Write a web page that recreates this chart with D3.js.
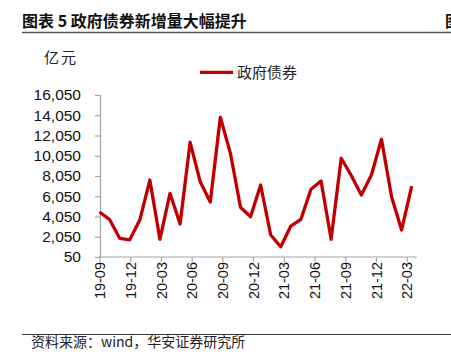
<!DOCTYPE html>
<html><head><meta charset="utf-8">
<script src="https://cdn.jsdelivr.net/npm/d3@7"></script>
<style>
html,body{margin:0;padding:0;background:#fff;}
svg{display:block;}
</style></head>
<body>
<svg id="c" width="451" height="357"></svg>
<script>
// Months of the series (2019-08 .. 2022-03)
const months = ["19-08","19-09","19-10","19-11","19-12","20-01","20-02","20-03","20-04","20-05","20-06","20-07",
  "20-08","20-09","20-10","20-11","20-12","21-01","21-02","21-03","21-04","21-05","21-06","21-07",
  "21-08","21-09","21-10","21-11","21-12","22-01","22-02","22-03"];
// 政府债券 (亿元)
const govBonds = [4500,3750,1900,1750,3700,7650,1800,6340,3310,11380,7490,5480,
  13850,10290,4960,4030,7160,2220,1067,3110,3770,6740,7560,1800,
  9800,8100,6170,8150,11680,6000,2720,7060];
const xTickLabels = ["19-09","19-12","20-03","20-06","20-09","20-12","21-03","21-06","21-09","21-12","22-03"];
const yTicks = [50,2050,4050,6050,8050,10050,12050,14050,16050];
const seriesName = "政府债券";
const titleText = "图表 5 政府债券新增量大幅提升";
const unitText = "亿元";
const sourceText = "资料来源：wind，华安证券研究所";

const svg = d3.select("#c");
const red = "#C00000";
const axisColor = "#A6A6A6";
const numFont = "'Liberation Sans', Arial, sans-serif";
const cjkFont = "'Noto Sans CJK SC', sans-serif";

// Title
svg.append("text").attr("x",22).attr("y",26.5).text(titleText)
  .attr("font-family",cjkFont).attr("font-weight","bold").attr("font-size",16).attr("fill","#111");
svg.append("text").attr("x",445).attr("y",26.5).text("图")
  .attr("font-family",cjkFont).attr("font-weight","bold").attr("font-size",16).attr("fill","#111");
svg.append("line").attr("x1",22).attr("x2",451).attr("y1",32.5).attr("y2",32.5)
  .attr("stroke","#555").attr("stroke-width",1.5);

// Unit
svg.append("text").attr("x",44).attr("y",63).text(unitText)
  .attr("font-family",cjkFont).attr("font-size",15).attr("letter-spacing",2).attr("fill","#222");

// Scales
const y = d3.scaleLinear().domain([50,16050]).range([257,95]);
const x = d3.scalePoint().domain(months).range([99.5,411.7]);
const xAxisScale = d3.scalePoint().domain(xTickLabels).range([99.5,406.7]);

// Y axis
const gy = svg.append("g").attr("transform","translate(100,0)")
  .call(d3.axisLeft(y).tickValues(yTicks).tickSize(5).tickPadding(14).tickFormat(d3.format(",")));
gy.select(".domain").attr("stroke",axisColor).attr("stroke-width",1.2);
gy.selectAll(".tick line").attr("stroke",axisColor).attr("stroke-width",1.2);
gy.selectAll(".tick text").attr("font-family",numFont).attr("font-size",15.5).attr("fill","#111");

// X axis
const gx = svg.append("g").attr("transform","translate(0,257)")
  .call(d3.axisBottom(xAxisScale).tickSize(5).tickSizeOuter(0));
gx.select(".domain").attr("d","M99.5,0H417").attr("stroke",axisColor).attr("stroke-width",1.2);
gx.selectAll(".tick line").attr("stroke",axisColor).attr("stroke-width",1.2);
gx.selectAll(".tick text").attr("font-family",numFont).attr("font-size",14.5).attr("fill","#111")
  .attr("transform","rotate(-90)").attr("text-anchor","end").attr("dx","-5").attr("dy","0.35em").attr("y",0).attr("x",0);

// Line
const line = d3.line().x((d,i)=>x(months[i])).y(d=>y(d));
svg.append("path").datum(govBonds).attr("d",line).attr("fill","none")
  .attr("stroke",red).attr("stroke-width",3.3).attr("stroke-linejoin","round");

// Legend
svg.append("line").attr("x1",200).attr("x2",233).attr("y1",72.3).attr("y2",72.3)
  .attr("stroke",red).attr("stroke-width",3.3);
svg.append("text").attr("x",237).attr("y",78).text(seriesName)
  .attr("font-family",cjkFont).attr("font-size",15).attr("fill","#222");

// Footer
svg.append("line").attr("x1",22).attr("x2",451).attr("y1",334.5).attr("y2",334.5)
  .attr("stroke","#333").attr("stroke-width",1);
svg.append("text").attr("x",31).attr("y",346.5).text(sourceText)
  .attr("font-family",cjkFont).attr("font-size",14).attr("fill","#222");
</script>
</body></html>
